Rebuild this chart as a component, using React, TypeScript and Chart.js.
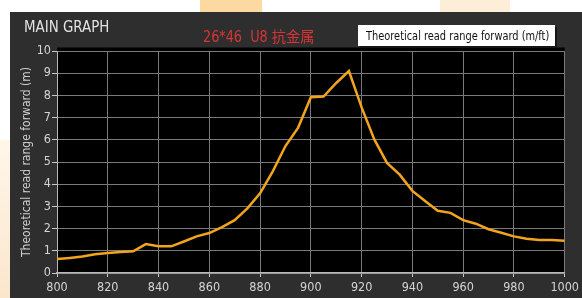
import React, { useEffect, useRef } from "react";
import { Chart, registerables } from "chart.js";

Chart.register(...registerables);

const frequencies: number[] = [
  800, 805, 810, 815, 820, 825, 830, 835, 840, 845, 850, 855, 860, 865, 870, 875, 880, 885, 890, 895,
  900, 905, 910, 915, 920, 925, 930, 935, 940, 945, 950, 955, 960, 965, 970, 975, 980, 985, 990, 995, 1000,
];
const readRange: number[] = [
  0.63, 0.68, 0.74, 0.84, 0.9, 0.95, 0.98, 1.3, 1.21, 1.2, 1.42, 1.65, 1.8, 2.07, 2.38, 2.91, 3.59, 4.58, 5.72, 6.55,
  7.92, 7.95, 8.56, 9.1, 7.46, 6.02, 4.96, 4.43, 3.7, 3.24, 2.8, 2.71, 2.38, 2.22, 1.97, 1.81, 1.65, 1.54, 1.49, 1.49, 1.45,
];
const xTickStep = 20;
const yTickStep = 1;
const titleText = "MAIN GRAPH";
const subtitleText = "26*46  U8 抗金属";
const legendText = "Theoretical read range forward (m/ft)";
const yAxisTitle = "Theoretical read range forward (m)";

const FONT = "'DejaVu Sans Condensed', 'DejaVu Sans', sans-serif";

const blackArea = {
  id: "blackArea",
  beforeDraw(chart: any) {
    const { ctx, chartArea } = chart;
    ctx.save();
    ctx.fillStyle = "#000000";
    ctx.fillRect(chartArea.left, chartArea.top - 3.5, chartArea.right - chartArea.left, chartArea.bottom - chartArea.top + 3.5);
    ctx.restore();
  },
};

export default function App() {
  const canvasRef = useRef<HTMLCanvasElement | null>(null);

  useEffect(() => {
    if (!canvasRef.current) return;
    const chart = new Chart(canvasRef.current, {
      type: "line",
      data: {
        datasets: [
          {
            label: legendText,
            data: frequencies.map((f, i) => ({ x: f, y: readRange[i] })),
            borderColor: "#f2a51c",
            borderWidth: 2.5,
            pointRadius: 0,
            tension: 0,
            fill: false,
          },
        ],
      },
      options: {
        animation: false,
        responsive: false,
        maintainAspectRatio: false,
        layout: { padding: { left: 10, top: 51, right: 11, bottom: 0 } },
        plugins: {
          legend: { display: false },
          title: { display: false },
          tooltip: { enabled: false },
        },
        scales: {
          x: {
            type: "linear",
            min: 800,
            max: 1000,
            ticks: {
              stepSize: xTickStep,
              color: "#d4d4d4",
              font: { family: FONT, size: 12.5 },
              padding: 3,
              maxRotation: 0,
              callback: (v: any) => String(v),
            },
            grid: { color: "#7a7a7a", lineWidth: 1, tickColor: "#c8c8c8", tickLength: 4, drawTicks: true },
            border: { color: "#b8b8b8", width: 1.5 },
          },
          y: {
            min: 0,
            max: 10,
            ticks: {
              stepSize: yTickStep,
              color: "#d4d4d4",
              font: { family: FONT, size: 12.5 },
              padding: 1,
              callback: (v: any) => String(v),
            },
            grid: { color: "#7a7a7a", lineWidth: 1, tickColor: "#c8c8c8", tickLength: 5, drawTicks: true },
            border: { color: "#b8b8b8", width: 1 },
            title: {
              display: true,
              text: yAxisTitle,
              color: "#cfcfcf",
              font: { family: FONT, size: 12 },
              padding: { top: 10, bottom: 0 },
            },
            afterFit: (scale: any) => {
              scale.width = 47;
            },
          },
        },
      },
      plugins: [blackArea],
    });
    return () => chart.destroy();
  }, []);

  return (
    <div style={{ position: "absolute", left: 0, top: 0, width: 582, height: 298, background: "#ffffff", overflow: "hidden" }}>
      <div style={{ position: "absolute", left: 0, top: 140, width: 10, height: 158, background: "linear-gradient(#fff6ea, #fbe6cc)" }} />
      <div style={{ position: "absolute", left: 200, top: 0, width: 62, height: 12, background: "#fcd9a0" }} />
      <div style={{ position: "absolute", left: 440, top: 0, width: 70, height: 12, background: "#fdeed8" }} />
      <div style={{ position: "absolute", left: 10, top: 12, width: 572, height: 286, background: "#2e2e2e" }} />
      <canvas ref={canvasRef} width={582} height={298} style={{ position: "absolute", left: 0, top: 0, width: 582, height: 298 }} />
      <div
        style={{
          position: "absolute",
          left: 24,
          top: 17,
          fontFamily: FONT,
          fontSize: 16,
          color: "#e2e2e2",
          lineHeight: "20px",
          whiteSpace: "nowrap",
          transform: "scaleX(0.93)",
          transformOrigin: "left center",
        }}
      >
        {titleText}
      </div>
      <div
        style={{
          position: "absolute",
          left: 203,
          top: 28,
          fontFamily: "'DejaVu Sans Condensed', 'Noto Sans CJK SC', sans-serif",
          fontSize: 15,
          color: "#d93535",
          lineHeight: "18px",
          whiteSpace: "pre",
          transform: "scaleX(0.95)",
          transformOrigin: "left center",
        }}
      >
        {subtitleText}
      </div>
      <div
        style={{
          position: "absolute",
          left: 358,
          top: 25,
          width: 197,
          height: 21,
          background: "#ffffff",
          boxShadow: "2px 2px 0 #151515",
          overflow: "hidden",
        }}
      >
        <div
          style={{
            position: "absolute",
            left: 8,
            top: 0,
            fontFamily: FONT,
            fontSize: 13,
            color: "#111111",
            lineHeight: "21px",
            whiteSpace: "nowrap",
            transform: "scaleX(0.84)",
            transformOrigin: "left center",
          }}
        >
          {legendText}
        </div>
      </div>
    </div>
  );
}
